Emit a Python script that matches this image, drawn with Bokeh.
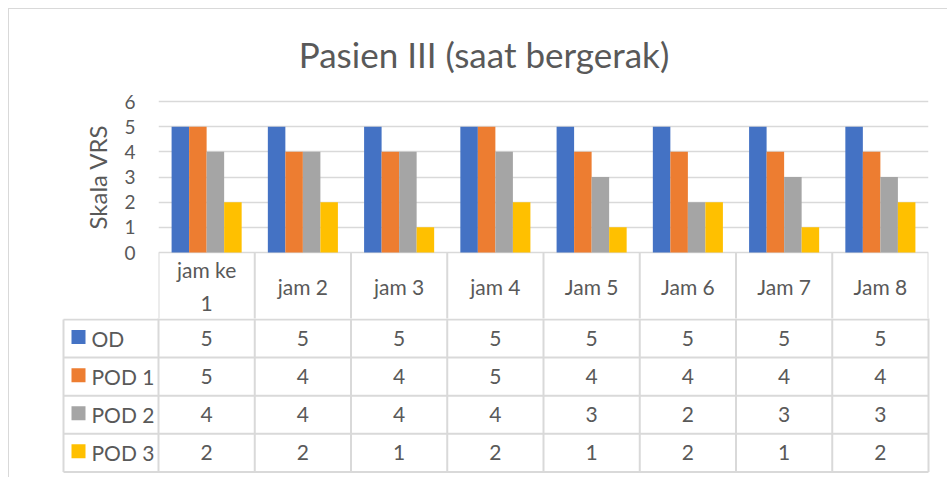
import numpy as np
from bokeh.plotting import figure
from bokeh.layouts import column
from bokeh.models import ColumnDataSource, FixedTicker, Range1d
from bokeh.transform import dodge
from bokeh.core.properties import value
from bokeh.embed import file_html
from bokeh.resources import INLINE

# ---------------- data ----------------
categories = ["jam ke 1", "jam 2", "jam 3", "jam 4", "Jam 5", "Jam 6", "Jam 7", "Jam 8"]
header_labels = ["jam ke\n1", "jam 2", "jam 3", "jam 4", "Jam 5", "Jam 6", "Jam 7", "Jam 8"]
series_names = ["OD", "POD 1", "POD 2", "POD 3"]
od = [5, 5, 5, 5, 5, 5, 5, 5]
pod1 = [5, 4, 4, 5, 4, 4, 4, 4]
pod2 = [4, 4, 4, 4, 3, 2, 3, 3]
pod3 = [2, 2, 1, 2, 1, 2, 1, 2]
y_ticks = [0, 1, 2, 3, 4, 5, 6]
title_text = "Pasien III (saat bergerak)"
y_label = "Skala VRS"

series_values = [od, pod1, pod2, pod3]
colors = ["#4472C4", "#ED7D31", "#A5A5A5", "#FFC000"]

# ---------------- layout constants (page pixels) ----------------
FONT = "Lato"
TXT = "#595959"
GRID = "#d9d9d9"
PAGE_X0 = 9            # page x where figures start (after margin + border)
PAGE_Y0 = 9
W = 947 - PAGE_X0
PLOT_L, PLOT_R = 158, 928
UNIT_X = (PLOT_R - PLOT_L) / len(categories)
Y6_PX, Y0_PX = 101, 252
UNIT_Y = (Y0_PX - Y6_PX) / 6
FRAME_TOP = 35
SPLIT = 318            # page y where the second figure starts
PAGE_BOTTOM = 477
HEADER_BOTTOM = 319
ROW_H = 38.1
LEG_L = 63
TITLE_CX, TITLE_CY = 483.5, 53


def px_x(px):
    return (px - PLOT_L) / UNIT_X


def py1(py):
    return (Y0_PX - py) / UNIT_Y


n = len(categories)
xc = np.arange(n) + 0.5

# ---------------- top figure: bars + header row ----------------
p1 = figure(width=W, height=SPLIT - PAGE_Y0,
            x_range=Range1d(0, n), y_range=Range1d(py1(SPLIT), py1(FRAME_TOP)),
            output_backend="svg", toolbar_location=None,
            x_axis_location=None,
            min_border_left=PLOT_L - PAGE_X0, min_border_right=W - (PLOT_R - PAGE_X0),
            min_border_top=FRAME_TOP - PAGE_Y0, min_border_bottom=0)
p1.outline_line_color = None
p1.background_fill_color = "white"
p1.border_fill_color = "white"

src = ColumnDataSource(dict(x=xc, **{f"s{i}": v for i, v in enumerate(series_values)}))
bar_w = 0.182
for i, (name, col) in enumerate(zip(series_names, colors)):
    off = (i - 1.5) * bar_w
    p1.vbar(x=dodge("x", off, range=p1.x_range), top=f"s{i}", width=bar_w, source=src,
            fill_color=col, line_color=None)

p1.xgrid.visible = False
p1.ygrid.ticker = FixedTicker(ticks=y_ticks)
p1.ygrid.grid_line_color = GRID
p1.ygrid.grid_line_width = 1.3

ax = p1.yaxis[0]
ax.ticker = FixedTicker(ticks=y_ticks)
ax.axis_line_color = None
ax.major_tick_line_color = None
ax.minor_tick_line_color = None
ax.major_tick_in = 0
ax.major_tick_out = 0
ax.major_label_standoff = 23
ax.major_label_text_font = FONT
ax.major_label_text_font_size = "19px"
ax.major_label_text_color = TXT
ax.axis_label = y_label
ax.axis_label_text_font = FONT
ax.axis_label_text_font_size = "24px"
ax.axis_label_text_font_style = "normal"
ax.axis_label_text_color = TXT
ax.axis_label_standoff = 9

# chart title
p1.text(x=[px_x(TITLE_CX)], y=[py1(TITLE_CY)], text=[title_text],
        text_align="center", text_baseline="middle",
        text_font=value(FONT), text_font_size="35px", text_color=TXT)

# header row of the data table (inside p1 frame)
vx = np.arange(n + 1)
p1.segment(x0=vx, y0=[0] * (n + 1), x1=vx, y1=[py1(SPLIT) - 1] * (n + 1),
           line_color=GRID, line_width=2)
p1.text(x=xc, y=[py1((Y0_PX + HEADER_BOTTOM) / 2)] * n, text=header_labels,
        text_align="center", text_baseline="middle",
        text_font=value(FONT), text_font_size="21px", text_color=TXT,
        text_line_height=1.3)

# ---------------- bottom figure: data rows ----------------
p2 = figure(width=W, height=PAGE_BOTTOM - SPLIT,
            x_range=Range1d(px_x(PAGE_X0), px_x(PAGE_X0 + W)),
            y_range=Range1d(PAGE_BOTTOM, SPLIT),
            output_backend="svg", toolbar_location=None,
            x_axis_location=None, y_axis_location=None,
            min_border_left=0, min_border_right=0,
            min_border_top=0, min_border_bottom=0)
p2.outline_line_color = None
p2.grid.visible = False
p2.background_fill_color = "white"
p2.border_fill_color = "white"

for p in (p1, p2):
    if "frame_align" in p.properties():
        p.frame_align = False

leg_x = px_x(LEG_L)
rows = len(series_names)
row_lines = HEADER_BOTTOM + np.arange(rows + 1) * ROW_H
bottom = row_lines[-1]
# vertical lines
p2.segment(x0=vx, y0=[SPLIT - 1] * (n + 1), x1=vx, y1=[bottom] * (n + 1),
           line_color=GRID, line_width=2)
p2.segment(x0=[leg_x], y0=[HEADER_BOTTOM], x1=[leg_x], y1=[bottom],
           line_color=GRID, line_width=2)
# horizontal lines
p2.segment(x0=[leg_x] * (rows + 1), y0=row_lines, x1=[n] * (rows + 1), y1=row_lines,
           line_color=GRID, line_width=2)

# values
vx_all, vy_all, vt_all = [], [], []
for r, vals in enumerate(series_values):
    for c, v in enumerate(vals):
        vx_all.append(c + 0.5)
        vy_all.append(HEADER_BOTTOM + (r + 0.5) * ROW_H)
        vt_all.append(str(v))
p2.text(x=vx_all, y=vy_all, text=vt_all, text_align="center", text_baseline="middle",
        text_font=value(FONT), text_font_size="21px", text_color=TXT)

# legend keys
ry = HEADER_BOTTOM + (np.arange(rows) + 0.5) * ROW_H
p2.scatter(x=[px_x(78)] * rows, y=ry - 1.5, marker="square", size=14,
           fill_color=colors, line_color=None)
p2.text(x=[px_x(91)] * rows, y=ry, text=series_names, text_align="left",
        text_baseline="middle",
        text_font=value(FONT), text_font_size="21px", text_color=TXT)

layout = column(p1, p2, spacing=0,
                styles={"margin-left": "8px", "margin-top": "8px",
                        "border-top": "1px solid #d9d9d9",
                        "border-left": "1px solid #d9d9d9"})

open("out.html", "w").write(file_html(layout, INLINE))
